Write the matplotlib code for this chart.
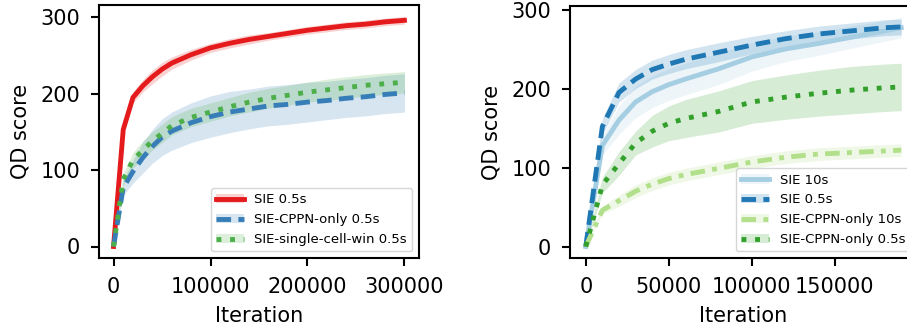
import numpy as np
import matplotlib
matplotlib.use('Agg')
import matplotlib.pyplot as plt
from matplotlib.lines import Line2D
from matplotlib.patches import Patch

# Left panel data (iterations, mean QD score, spread)
it_left = [0, 10000, 20000, 30000, 40000, 50000, 60000, 80000, 100000, 120000,
           140000, 160000, 180000, 200000, 220000, 240000, 260000, 280000, 300000]
sie_05 = [0, 153, 195, 210, 222, 232, 240, 251, 260, 266, 271, 275, 279, 283, 286, 289, 291, 294, 296]
sie_05_std = [0, 5, 7, 8, 9, 9, 8, 7, 6, 6, 6, 5, 5, 5, 5, 5, 5, 5, 5]
cppn_05 = [0, 77, 98, 116, 131, 143, 151, 162, 170, 176, 180, 184, 186, 189, 191, 194, 196, 199, 201]
cppn_05_std = [0, 10, 15, 20, 22, 24, 25, 26, 27, 27, 26, 26, 26, 26, 25, 25, 25, 25, 25]
single_05 = [0, 88, 113, 126, 138, 148, 158, 169, 176, 183, 189, 194, 198, 202, 205, 208, 211, 213, 215]
single_05_std = [0, 8, 10, 12, 12, 12, 12, 12, 12, 12, 13, 13, 13, 13, 14, 14, 14, 14, 14]

# Right panel data
it_right = [0, 10000, 20000, 30000, 40000, 50000, 60000, 80000, 100000, 120000,
            140000, 160000, 180000, 190000]
r_sie_10 = [0, 128, 160, 183, 196, 205, 212, 225, 240, 250, 257, 265, 273, 277]
r_sie_10_std = [0, 12, 18, 20, 20, 20, 20, 20, 18, 16, 15, 14, 13, 13]
r_sie_05 = [0, 152, 195, 212, 224, 231, 237, 246, 255, 263, 269, 273, 277, 278]
r_sie_05_std = [0, 10, 12, 12, 12, 12, 12, 12, 11, 10, 10, 10, 10, 10]
r_cppn_10 = [0, 46, 58, 70, 79, 86, 91, 99, 107, 113, 117, 119, 121, 122]
r_cppn_10_std = [0, 5, 7, 8, 8, 8, 8, 8, 8, 8, 8, 8, 8, 8]
r_cppn_05 = [0, 78, 105, 131, 146, 156, 162, 171, 183, 189, 194, 198, 201, 202]
r_cppn_05_std = [0, 10, 15, 15, 20, 22, 24, 26, 27, 28, 29, 30, 30, 30]

plt.rcParams['font.family'] = 'DejaVu Sans'
plt.rcParams['axes.linewidth'] = 1.5
plt.rcParams['xtick.major.width'] = 1.5
plt.rcParams['ytick.major.width'] = 1.5
plt.rcParams['xtick.major.size'] = 6
plt.rcParams['ytick.major.size'] = 6
plt.rcParams['xtick.major.pad'] = 7.5
plt.rcParams['ytick.major.pad'] = 7.5

fig = plt.figure(figsize=(9.07, 3.31), dpi=100)
ax1 = fig.add_axes([99 / 907, 73 / 331, 320 / 907, 253 / 331])
ax2 = fig.add_axes([570 / 907, 73 / 331, 347 / 907, 252 / 331])

dotted = (0, (1, 1.8))
dashed = (0, (3, 1.5))
dashdot = (0, (3, 1.5, 1, 1.5))


def draw(ax, x, y, s, color, ls, label, handles):
    x = np.array(x)
    y = np.array(y)
    s = np.array(s)
    ax.fill_between(x, y - s, y + s, color=color, alpha=0.2, lw=0)
    ax.plot(x, y, color=color, ls=ls, lw=3.5)
    handles.append(((Patch(color=color, alpha=0.2, lw=0),
                     Line2D([], [], color=color, ls=ls, lw=3.5)), label))


h1 = []
draw(ax1, it_left, sie_05, sie_05_std, '#e41a1c', '-', 'SIE 0.5s', h1)
draw(ax1, it_left, cppn_05, cppn_05_std, '#377eb8', dashed, 'SIE-CPPN-only 0.5s', h1)
draw(ax1, it_left, single_05, single_05_std, '#4daf4a', dotted, 'SIE-single-cell-win 0.5s', h1)

h2 = []
draw(ax2, it_right, r_sie_10, r_sie_10_std, '#a6cee3', '-', 'SIE 10s', h2)
draw(ax2, it_right, r_sie_05, r_sie_05_std, '#1f78b4', dashed, 'SIE 0.5s', h2)
draw(ax2, it_right, r_cppn_10, r_cppn_10_std, '#b2df8a', dashdot, 'SIE-CPPN-only 10s', h2)
draw(ax2, it_right, r_cppn_05, r_cppn_05_std, '#33a02c', dotted, 'SIE-CPPN-only 0.5s', h2)

ax1.set_xticks([0, 100000, 200000, 300000])
ax2.set_xticks([0, 50000, 100000, 150000])
for ax, hs in ((ax1, h1), (ax2, h2)):
    ax.set_yticks([0, 100, 200, 300])
    ax.tick_params(labelsize=15)
    ax.set_xlabel('Iteration', fontsize=15, labelpad=7)
    ax.set_ylabel('QD score', fontsize=15, labelpad=7)
    ax.legend([h for h, l in hs], [l for h, l in hs], loc='lower right',
              fontsize=9.5, handlelength=2.1, labelspacing=0.52)

fig.savefig('out.png', dpi=100)
